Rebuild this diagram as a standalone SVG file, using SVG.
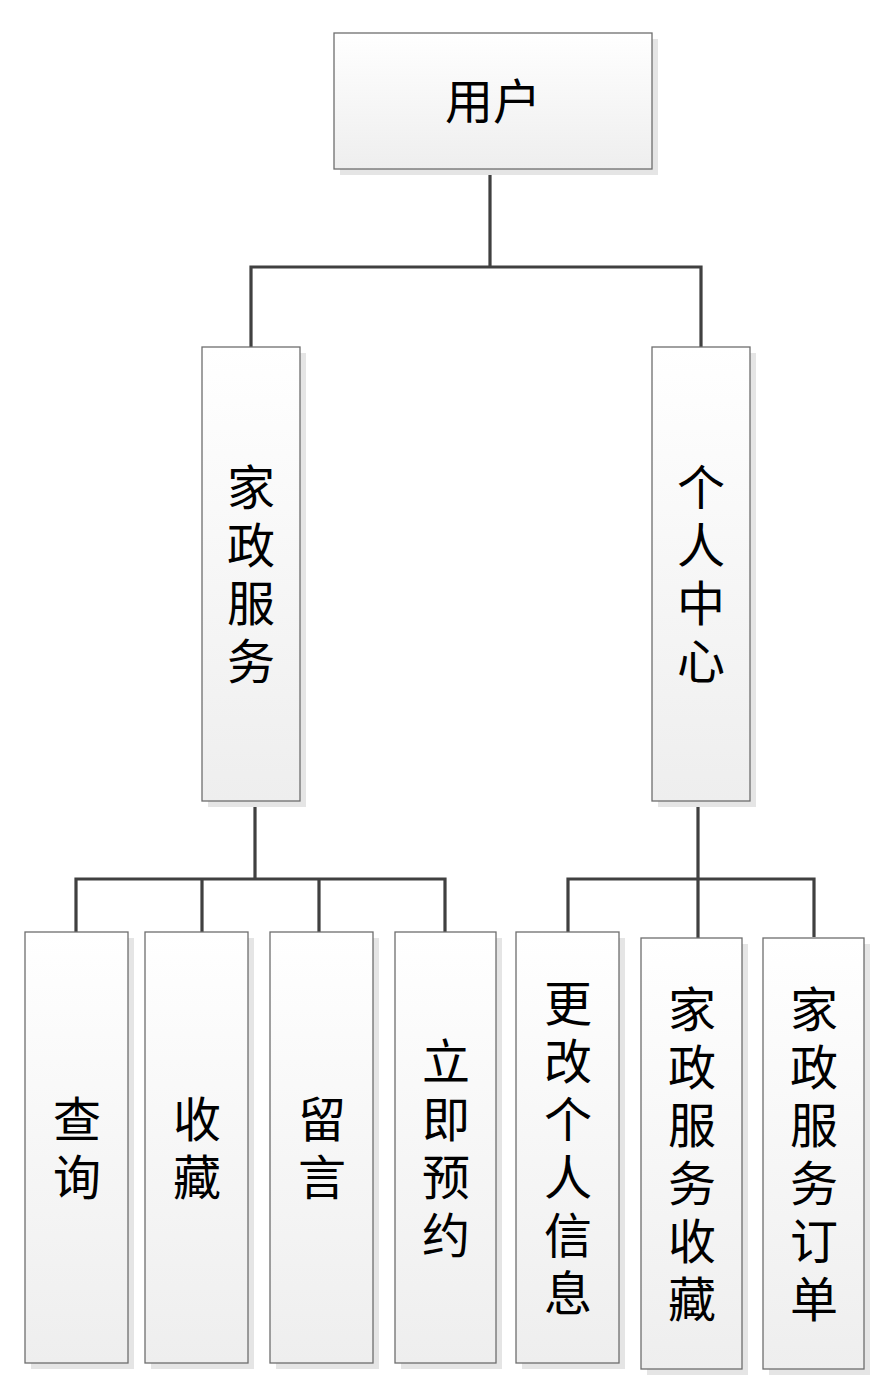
<svg xmlns="http://www.w3.org/2000/svg" width="895" height="1395" viewBox="0 0 895 1395">
<defs>
<linearGradient id="g" x1="0" y1="0" x2="0" y2="1">
<stop offset="0" stop-color="#ffffff"/>
<stop offset="1" stop-color="#eeeeee"/>
</linearGradient>
</defs>
<style>
.sh{fill:#e5e5e5;stroke:none}
.bx{fill:url(#g);stroke:#6e6e6e;stroke-width:1.3}
.t{font-family:"Noto Sans CJK SC","Noto Sans CJK JP",sans-serif;font-size:48px;fill:#000;text-anchor:middle}
.c{fill:none;stroke:#404040;stroke-width:3.2;stroke-linejoin:miter}
</style>
<rect width="895" height="1395" fill="#ffffff"/>
<g id="connectors">
<path class="c" d="M490 169V267M251 347V267H701V347"/>
<path class="c" d="M255 796V879M76 932V879H445V933M202 879V940M319 879V940"/>
<path class="c" d="M698 796V879M568 933V879H814V937M698 879V940"/>
</g>
<g id="n-user">
<rect class="sh" x="340" y="39" width="318" height="136"/>
<rect class="bx" x="334" y="33" width="318" height="136"/>
<text class="t" x="493" y="119">用户</text>
</g>
<g id="n-service">
<rect class="sh" x="208" y="353" width="98" height="454"/>
<rect class="bx" x="202" y="347" width="98" height="454"/>
<text class="t" y="505"><tspan x="251">家</tspan><tspan x="251" dy="58">政</tspan><tspan x="251" dy="58">服</tspan><tspan x="251" dy="58">务</tspan></text>
</g>
<g id="n-center">
<rect class="sh" x="658" y="353" width="98" height="454"/>
<rect class="bx" x="652" y="347" width="98" height="454"/>
<text class="t" y="505"><tspan x="701">个</tspan><tspan x="701" dy="58">人</tspan><tspan x="701" dy="58">中</tspan><tspan x="701" dy="58">心</tspan></text>
</g>
<g id="n-query">
<rect class="sh" x="31" y="938" width="103" height="431"/>
<rect class="bx" x="25" y="932" width="103" height="431"/>
<text class="t" y="1136.5"><tspan x="77">查</tspan><tspan x="77" dy="58">询</tspan></text>
</g>
<g id="n-fav">
<rect class="sh" x="151" y="938" width="103" height="431"/>
<rect class="bx" x="145" y="932" width="103" height="431"/>
<text class="t" y="1136.5"><tspan x="197">收</tspan><tspan x="197" dy="58">藏</tspan></text>
</g>
<g id="n-msg">
<rect class="sh" x="276" y="938" width="103" height="431"/>
<rect class="bx" x="270" y="932" width="103" height="431"/>
<text class="t" y="1136.5"><tspan x="322">留</tspan><tspan x="322" dy="58">言</tspan></text>
</g>
<g id="n-book">
<rect class="sh" x="401" y="938" width="101" height="431"/>
<rect class="bx" x="395" y="932" width="101" height="431"/>
<text class="t" y="1078.5"><tspan x="446">立</tspan><tspan x="446" dy="58">即</tspan><tspan x="446" dy="58">预</tspan><tspan x="446" dy="58">约</tspan></text>
</g>
<g id="n-profile">
<rect class="sh" x="522" y="938" width="103" height="431"/>
<rect class="bx" x="516" y="932" width="103" height="431"/>
<text class="t" y="1020.5"><tspan x="568">更</tspan><tspan x="568" dy="58">改</tspan><tspan x="568" dy="58">个</tspan><tspan x="568" dy="58">人</tspan><tspan x="568" dy="58">信</tspan><tspan x="568" dy="58">息</tspan></text>
</g>
<g id="n-svcfav">
<rect class="sh" x="647" y="944" width="101" height="431"/>
<rect class="bx" x="641" y="938" width="101" height="431"/>
<text class="t" y="1026.5"><tspan x="692">家</tspan><tspan x="692" dy="58">政</tspan><tspan x="692" dy="58">服</tspan><tspan x="692" dy="58">务</tspan><tspan x="692" dy="58">收</tspan><tspan x="692" dy="58">藏</tspan></text>
</g>
<g id="n-order">
<rect class="sh" x="769" y="944" width="101" height="431"/>
<rect class="bx" x="763" y="938" width="101" height="431"/>
<text class="t" y="1026.5"><tspan x="814">家</tspan><tspan x="814" dy="58">政</tspan><tspan x="814" dy="58">服</tspan><tspan x="814" dy="58">务</tspan><tspan x="814" dy="58">订</tspan><tspan x="814" dy="58">单</tspan></text>
</g>
</svg>
